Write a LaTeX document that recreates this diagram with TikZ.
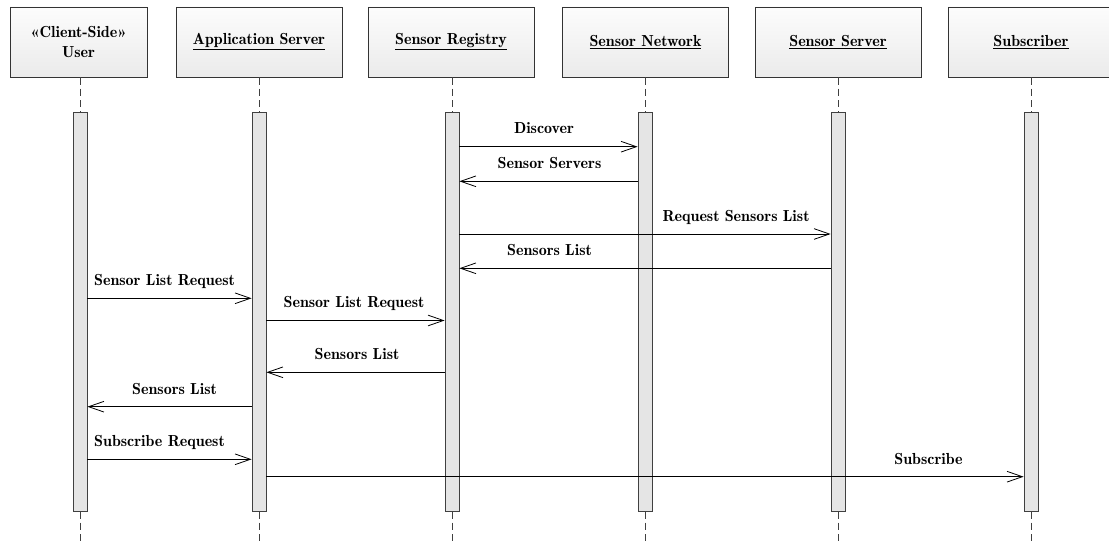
\documentclass[tikz,border=0pt]{standalone}
\usepackage{fontspec}
\newfontfamily\demifont{Latin Modern Roman Demi}
\usetikzlibrary{arrows.meta}
\begin{document}
\begin{tikzpicture}[x=0.75pt,y=-0.75pt,
  font=\demifont\fontsize{12}{15}\selectfont,
  head/.style={draw=black!80, line width=0.6pt, top color=white!99!black,
    bottom color=white!92!black, minimum width=124.5pt, minimum height=52.5pt,
    align=center, inner sep=2pt},
  bar/.style={draw=black!75, line width=0.6pt, fill=gray!20, minimum width=10.5pt,
    minimum height=299.25pt, inner sep=0pt},
  life/.style={draw=black!75, line width=0.6pt, dash pattern=on 5.5pt off 3pt},
  msg/.style={-{Straight Barb[length=11.5pt,width=8pt]}, line width=0.6pt},
  lbl/.style={anchor=base, inner sep=0pt}]
\useasboundingbox (0,0) rectangle (1109,541);

% participants
\node[head, minimum width=102.75pt] (hU) at (78.5,42) {«Client-Side»\\User};
\node[head] (hA) at (259,42) {\underline{Application Server}};
\node[head] (hR) at (451,42) {\underline{Sensor Registry}};
\node[head] (hN) at (645.5,42) {\underline{Sensor Network}};
\node[head] (hS) at (838,42) {\underline{Sensor Server}};
\node[head] (hB) at (1031,42) {\underline{Subscriber}};

% activation bars
\node[bar] (aU) at (80,311.5) {};
\node[bar] (aA) at (259,311.5) {};
\node[bar] (aR) at (452,311.5) {};
\node[bar] (aN) at (645,311.5) {};
\node[bar] (aS) at (838,311.5) {};
\node[bar] (aB) at (1031,311.5) {};

% lifelines
\coordinate (bottom) at (0,541);
\foreach \p in {U,A,R,N,S,B}{
  \draw[life] (h\p.south -| a\p.center) -- (a\p.north);
  \draw[life] (a\p.south) -- (a\p.south |- bottom);
}

% message rows
\coordinate (m1) at (0,146.7);
\coordinate (m2) at (0,181.3);
\coordinate (m3) at (0,234);
\coordinate (m4) at (0,268.3);
\coordinate (m5) at (0,298.3);
\coordinate (m6) at (0,320.5);
\coordinate (m7) at (0,372.3);
\coordinate (m8) at (0,406.7);
\coordinate (m9) at (0,459.3);
\coordinate (m10) at (0,476.7);

% messages
\draw[msg] (aR.east |- m1) -- (aN.west |- m1);
\draw[msg] (aN.west |- m2) -- (aR.east |- m2);
\draw[msg] (aR.east |- m3) -- (aS.west |- m3);
\draw[msg] (aS.west |- m4) -- (aR.east |- m4);
\draw[msg] (aU.east |- m5) -- (aA.west |- m5);
\draw[msg] (aA.east |- m6) -- (aR.west |- m6);
\draw[msg] (aR.west |- m7) -- (aA.east |- m7);
\draw[msg] (aA.west |- m8) -- (aU.east |- m8);
\draw[msg] (aU.east |- m9) -- (aA.west |- m9);
\draw[msg] (aA.east |- m10) -- (aB.west |- m10);

% message labels
\node[lbl] (l1) at (544,134) {Discover};
\node[lbl] (l2) at (549.5,168.8) {Sensor Servers};
\node[lbl] (l3) at (736,221.5) {Request Sensors List};
\node[lbl] (l4) at (549.5,255.8) {Sensors List};
\node[lbl] (l5) at (164.5,285.8) {Sensor List Request};
\node[lbl] (l6) at (354,308) {Sensor List Request};
\node[lbl] (l7) at (357,359.8) {Sensors List};
\node[lbl] (l8) at (174.5,394.2) {Sensors List};
\node[lbl] (l9) at (159.5,446.8) {Subscribe Request};
\node[lbl] (l10) at (928.5,464.2) {Subscribe};
\end{tikzpicture}
\end{document}
